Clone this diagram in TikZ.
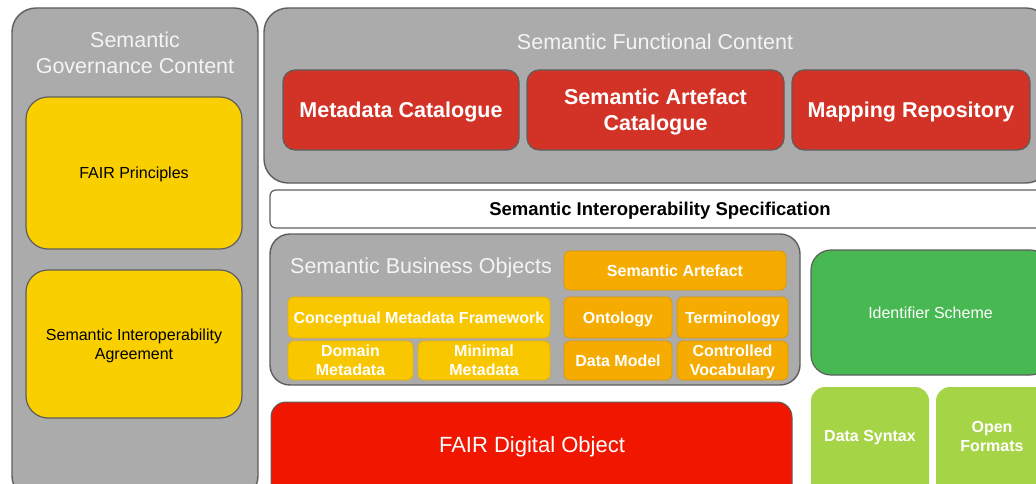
\documentclass[tikz,border=0pt]{standalone}
\usepackage{fontspec}
\setmainfont{Liberation Sans}
\usepackage{xcolor}
\usepackage{tikz}
\usetikzlibrary{positioning}

\definecolor{panelgray}{HTML}{ABABAB}
\definecolor{edgegray}{HTML}{5E5E5E}
\definecolor{govyellow}{HTML}{F9CF00}
\definecolor{cmfyellow}{HTML}{F9C700}
\definecolor{cmfedge}{HTML}{E3B300}
\definecolor{artorange}{HTML}{F5AB00}
\definecolor{artedge}{HTML}{DF9900}
\definecolor{catred}{HTML}{D33327}
\definecolor{fdored}{HTML}{F01600}
\definecolor{idgreen}{HTML}{47B852}
\definecolor{fmtgreen}{HTML}{A6D447}
\definecolor{titlewhite}{HTML}{F4F4F4}

\begin{document}
\begin{tikzpicture}[x=1pt,y=-1pt,
  every node/.style={inner sep=0pt,align=center,text depth=0pt},
  panel/.style={draw=edgegray,line width=1.4pt,fill=panelgray,rounded corners=24pt},
  paneltitle/.style={text=titlewhite,font=\fontsize{21.5}{26}\selectfont},
  govbox/.style={draw=edgegray,line width=1.2pt,fill=govyellow,rounded corners=22pt,
    font=\fontsize{16}{19}\selectfont},
  catbox/.style={draw=edgegray,line width=1.2pt,fill=catred,rounded corners=12pt,
    text=white,font=\fontsize{21.5}{26}\selectfont\bfseries,minimum height=80pt},
  cmfbox/.style={draw=cmfedge,line width=0.8pt,fill=cmfyellow,rounded corners=6pt,
    text=white,font=\fontsize{16}{19}\selectfont\bfseries},
  artbox/.style={draw=artedge,line width=0.8pt,fill=artorange,rounded corners=6pt,
    text=white,font=\fontsize{16}{19}\selectfont\bfseries},
  fmtbox/.style={fill=fmtgreen,rounded corners=14pt,text=white,
    font=\fontsize{16}{19}\selectfont\bfseries,minimum height=113pt}]
  \clip (0,0) rectangle (1036,484);
  \useasboundingbox (0,0) rectangle (1036,484);

  % governance column
  \node[panel,minimum width=246pt,minimum height=492pt] (gov) at (135,254) {};
  \node[paneltitle] (govtitle) at (135,53) {Semantic\\Governance Content};
  \node[govbox,minimum width=216pt,minimum height=152pt] (fair) at (134,173)
    {FAIR Principles};
  \node[govbox,minimum width=216pt,minimum height=148pt] (sia) at (134,344)
    {Semantic Interoperability\\Agreement};

  % functional content
  \node[panel,minimum width=786pt,minimum height=175pt] (func) at (657,95.5) {};
  \node[paneltitle] (functitle) at (655,42) {Semantic Functional Content};
  \node[catbox,minimum width=236pt] (metacat) at (401,110) {Metadata Catalogue};
  \node[catbox,minimum width=257pt] (sacat) at (655.5,110)
    {Semantic Artefact\\Catalogue};
  \node[catbox,minimum width=238pt] (maprepo) at (911,110) {Mapping Repository};

  \node[draw=edgegray,line width=1.2pt,fill=white,rounded corners=6pt,
    minimum width=780pt,minimum height=38pt,font=\fontsize{18.5}{22}\selectfont\bfseries]
    (spec) at (660,209) {Semantic Interoperability Specification};

  % business objects
  \node[panel,rounded corners=20pt,minimum width=530pt,minimum height=151pt] (sbo)
    at (535,309.5) {};
  \node[paneltitle,anchor=west] (sbotitle) at (290,266) {Semantic Business Objects};
  \node[artbox,minimum width=222pt,minimum height=39pt] (sa) at (675,270.5)
    {Semantic Artefact};
  \node[cmfbox,minimum width=262pt,minimum height=41pt] (cmf) at (419,317.5)
    {Conceptual Metadata Framework};
  \node[cmfbox,minimum width=125pt,minimum height=39pt] (dom) at (350.5,360.5)
    {Domain\\Metadata};
  \node[cmfbox,minimum width=132pt,minimum height=39pt] (minmeta) at (484,360.5)
    {Minimal\\Metadata};
  \node[artbox,minimum width=108pt,minimum height=41pt] (onto) at (618,317.5)
    {Ontology};
  \node[artbox,minimum width=111pt,minimum height=41pt] (term) at (732.5,317.5)
    {Terminology};
  \node[artbox,minimum width=108pt,minimum height=39pt] (dm) at (618,360.5)
    {Data Model};
  \node[artbox,minimum width=111pt,minimum height=39pt] (cv) at (732.5,360.5)
    {Controlled\\Vocabulary};

  \node[draw=edgegray,line width=1pt,fill=fdored,rounded corners=15pt,
    minimum width=521pt,minimum height=98pt] (fdo) at (531.5,451) {};
  \node[text=white,font=\fontsize{22}{26}\selectfont] (fdotext) at (532,445)
    {FAIR Digital Object};

  % identifiers and formats
  \node[draw=edgegray,line width=1.2pt,fill=idgreen,rounded corners=20pt,
    minimum width=239pt,minimum height=125pt,text=white,
    font=\fontsize{16}{19}\selectfont] (ids) at (930.5,312.5) {Identifier Scheme};
  \node[fmtbox,minimum width=118pt] (dsyn) at (870,443.5) {};
  \node[text=white,font=\fontsize{16}{19}\selectfont\bfseries] (dsyntext) at (870,436)
    {Data Syntax};
  \node[fmtbox,minimum width=114pt] (ofmt) at (993,443.5) {};
  \node[text=white,font=\fontsize{16}{19}\selectfont\bfseries] (ofmttext) at (992,436)
    {Open\\Formats};
\end{tikzpicture}
\end{document}
